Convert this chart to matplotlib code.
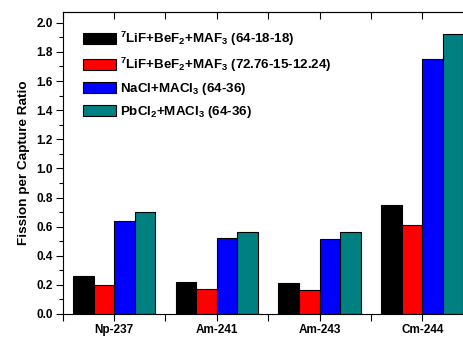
import numpy as np
import matplotlib.pyplot as plt
from matplotlib.ticker import MultipleLocator, FixedLocator, FormatStrFormatter

plt.rcParams['font.family'] = ['Liberation Sans', 'DejaVu Sans']
plt.rcParams['font.weight'] = 'bold'
plt.rcParams['mathtext.fontset'] = 'custom'
plt.rcParams['mathtext.rm'] = 'Liberation Sans:bold'
plt.rcParams['mathtext.it'] = 'Liberation Sans:bold'
plt.rcParams['mathtext.bf'] = 'Liberation Sans:bold'
plt.rcParams['mathtext.default'] = 'regular'

# data
nuclides = ['Np-237', 'Am-241', 'Am-243', 'Cm-244']
lif_64 = [0.26, 0.22, 0.21, 0.75]
lif_72 = [0.20, 0.17, 0.165, 0.61]
nacl = [0.64, 0.52, 0.515, 1.75]
pbcl = [0.70, 0.565, 0.56, 1.92]
series = [lif_64, lif_72, nacl, pbcl]
labels = [r'$^{7}$LiF+BeF$_{2}$+MAF$_{3}$ (64-18-18)',
          r'$^{7}$LiF+BeF$_{2}$+MAF$_{3}$ (72.76-15-12.24)',
          r'NaCl+MACl$_{3}$ (64-36)',
          r'PbCl$_{2}$+MACl$_{3}$ (64-36)']
colors = ['#000000', '#ff0000', '#0000ff', '#008080']

fig = plt.figure(figsize=(4.64, 3.38), dpi=100)
ax = fig.add_axes([62.7 / 464, 1 - 314 / 338, 411 / 464, 302 / 338])

x = np.arange(len(nuclides))
w = 0.2
for i, (vals, c, lab) in enumerate(zip(series, colors, labels)):
    ax.bar(x + (i - 1.5) * w, vals, w, color=c, edgecolor='black',
           linewidth=0.8, label=lab)

ax.set_xlim(-0.5, 3.5)
ax.set_ylim(0, 2.074)
ax.set_xticks(x)
ax.set_xticklabels(nuclides)
ax.xaxis.set_minor_locator(FixedLocator(np.arange(-0.5, 4, 1)))
ax.yaxis.set_major_locator(MultipleLocator(0.2))
ax.yaxis.set_minor_locator(MultipleLocator(0.1))
ax.yaxis.set_major_formatter(FormatStrFormatter('%.1f'))

ax.tick_params(axis='y', which='major', direction='out', length=5, width=0.8,
               labelsize=8.5, pad=2)
ax.tick_params(axis='y', which='minor', direction='out', length=3, width=0.8)
ax.tick_params(axis='x', which='both', direction='out', length=5, width=0.8,
               labelsize=8.5, pad=2)
for lbl in ax.get_xticklabels() + ax.get_yticklabels():
    lbl.set_fontweight('bold')
for s in ax.spines.values():
    s.set_linewidth(0.8)

# top ticks point into the plot
sec = ax.secondary_xaxis('top')
sec.set_xticks(x)
sec.xaxis.set_minor_locator(FixedLocator(np.arange(-0.5, 4, 1)))
sec.tick_params(which='both', direction='in', length=5, width=0.8, labeltop=False)

ax.set_ylabel('Fission per Capture Ratio', fontsize=9.7, fontweight='bold', labelpad=5)

ax.legend(loc='upper left', bbox_to_anchor=(0.02, 0.98), frameon=False,
          prop={'size': 9.6, 'weight': 'bold'}, handlelength=2.45, handleheight=0.9,
          labelspacing=0.55, handletextpad=0.3)

fig.savefig('out.png', dpi=100)
